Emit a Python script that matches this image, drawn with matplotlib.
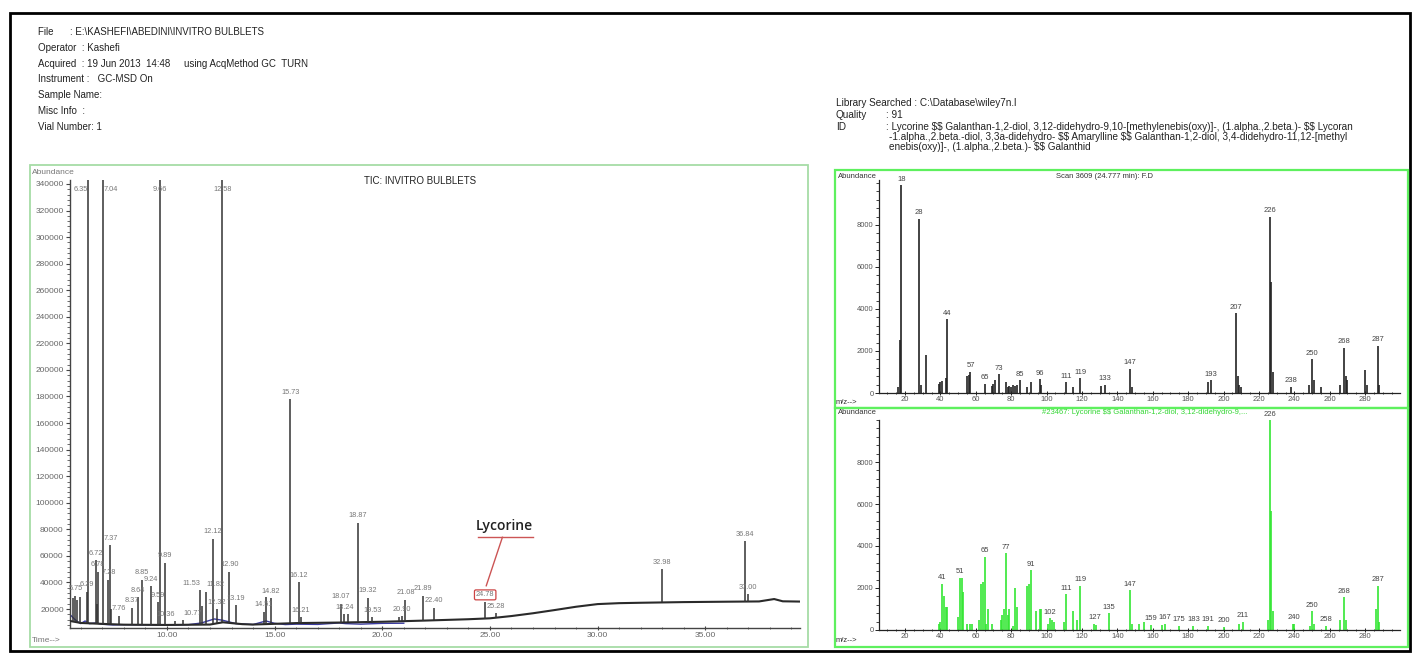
import matplotlib
matplotlib.use("Agg")
import matplotlib.pyplot as plt
import numpy as np
from matplotlib.patches import Rectangle
from matplotlib.ticker import MultipleLocator, FuncFormatter, FixedLocator
from matplotlib import font_manager

# ---------------- data ----------------
header_lines = ["File      : E:\\KASHEFI\\ABEDINI\\INVITRO BULBLETS",
                "Operator  : Kashefi",
                "Acquired  : 19 Jun 2013  14:48     using AcqMethod GC  TURN",
                "Instrument :   GC-MSD On",
                "Sample Name:",
                "Misc Info  :",
                "Vial Number: 1"]
lib_lines = ["Library Searched : C:\\Database\\wiley7n.l",
             "Quality",
             "ID"]
lib_values = ["", ": 91"]
id_lines = [": Lycorine $$ Galanthan-1,2-diol, 3,12-didehydro-9,10-[methylenebis(oxy)]-, (1.alpha.,2.beta.)- $$ Lycoran",
            "-1.alpha.,2.beta.-diol, 3,3a-didehydro- $$ Amarylline $$ Galanthan-1,2-diol, 3,4-didehydro-11,12-[methyl",
            "enebis(oxy)]-, (1.alpha.,2.beta.)- $$ Galanthid"]

# TIC peaks: retention time (min), apex abundance (off-scale peaks > 340000)
tic_rt = [5.62, 5.75, 5.83, 5.95, 6.29, 6.35, 6.72, 6.74, 6.78, 7.04, 7.28, 7.37, 7.40, 7.76,
          8.37, 8.64, 8.85, 9.24, 9.59, 9.66, 9.89, 10.36, 10.77, 11.53, 11.62, 11.82, 12.12,
          12.32, 12.58, 12.90, 13.19, 14.51, 14.60, 14.82, 15.73, 16.12, 16.21, 18.07, 18.24,
          18.43, 18.87, 19.32, 19.53, 20.80, 20.90, 21.08, 21.89, 22.40, 24.78, 25.28, 32.98,
          36.84, 37.00]
tic_ab = [28000, 30000, 27000, 29000, 33000, 420000, 57000, 24000, 48000, 410000, 42000, 68000, 20000, 15000,
          21000, 29000, 42000, 37000, 25000, 430000, 55000, 11000, 11500, 34000, 22000, 33000, 73000,
          20000, 400000, 48000, 23000, 18000, 29000, 28000, 178000, 40000, 14000, 24000, 16000,
          16000, 85000, 28500, 14000, 14000, 14500, 27000, 30000, 21000, 25500, 17000, 50000,
          71000, 31000]
# peaks whose retention-time label is legible in the reference
tic_labeled = [5.75, 6.29, 6.35, 6.72, 6.78, 7.04, 7.28, 7.37, 7.76, 8.37, 8.64, 8.85, 9.24, 9.59,
               9.66, 9.89, 10.36, 10.77, 11.53, 11.82, 12.12, 12.32, 12.58, 12.90, 13.19, 14.51,
               14.82, 15.73, 16.12, 16.21, 18.07, 18.24, 18.87, 19.32, 19.53, 20.90, 21.08, 21.89,
               22.40, 24.78, 25.28, 32.98, 36.84, 37.00]
lycorine_rt = 24.78
# TIC baseline
base_rt = [5.5, 6.0, 7.0, 8.0, 10.0, 12.0, 12.6, 13.5, 14.0, 16.0, 18.0, 20.0, 22.0, 24.0, 25.0,
           26.0, 27.0, 28.0, 29.0, 30.0, 31.0, 32.0, 34.0, 36.0, 37.5, 38.2, 38.6, 39.4]
base_ab = [11000, 9500, 8800, 8200, 8000, 8300, 10000, 8600, 8300, 9400, 9800, 10400, 11300, 12300, 13000,
           14700, 16800, 19200, 21700, 23700, 24400, 24700, 25200, 25500, 25700, 27500, 25800, 25600]
# second (blue) trace near the baseline
blue_rt = [5.55, 5.7, 5.85, 6.0, 6.2, 6.4, 6.7, 7.0, 7.5, 8.0, 9.0, 10.0, 11.0, 11.6, 12.2, 12.6,
           13.2, 14.0, 14.6, 15.0, 15.5, 16.0, 17.0, 18.0, 18.3, 19.0, 20.0, 21.0]
blue_ab = [15000, 12500, 10500, 9000, 11000, 9000, 9500, 8500, 8000, 8200, 8100, 8000, 8200, 9500,
           12500, 11500, 9000, 8300, 11000, 9200, 8300, 8600, 8400, 9500, 9000, 8600, 9200, 9300]

# Mass spectrum of scan 3609 (24.777 min)
ms1_mz = [16, 17, 18, 28, 29, 32, 39, 40, 41, 43, 44, 55, 56, 57, 65, 69, 70, 71, 73, 77,
          78, 79, 80, 81, 82, 83, 85, 89, 91, 96, 97, 111, 115, 119, 131, 133, 147, 148, 191, 193,
          207, 208, 209, 210, 226, 227, 228, 238, 248, 250, 251, 255, 266, 268, 269, 270, 280, 281, 287, 288]
ms1_ab = [300, 2500, 9900, 8300, 400, 1800, 450, 500, 550, 700, 3500, 800, 850, 1000, 440, 350, 450, 600, 900, 500,
          300, 350, 300, 400, 350, 400, 600, 300, 500, 650, 400, 500, 300, 700, 350, 400, 1150, 300, 500, 600,
          3800, 800, 400, 300, 8400, 5300, 1000, 300, 400, 1600, 600, 300, 400, 2150, 800, 600, 1100, 400, 2250, 400]
ms1_lbl = [18, 28, 44, 57, 65, 73, 85, 96, 111, 119, 133, 147, 193, 207, 226, 238, 250, 268, 287]

# Library spectrum (Lycorine)
ms2_mz = [39, 40, 41, 42, 43, 44, 50, 51, 52, 53, 55, 57, 58, 62, 63, 64, 65, 66, 67, 69,
          74, 75, 76, 77, 78, 79, 81, 82, 83, 89, 90, 91, 94, 96, 97, 101, 102, 103, 104, 110,
          111, 115, 117, 119, 127, 128, 135, 147, 148, 152, 155, 159, 165, 167, 175, 183, 191, 200, 209, 211,
          225, 226, 227, 228, 239, 240, 249, 250, 251, 258, 266, 268, 269, 286, 287, 288]
ms2_ab = [300, 400, 2200, 1600, 1100, 1100, 600, 2500, 2500, 1800, 300, 300, 300, 500, 2200, 2300, 3500, 300, 1000, 300,
          500, 700, 1000, 3650, 700, 1000, 200, 2000, 1100, 2100, 2200, 2850, 900, 1000, 1000, 300, 550, 500, 400, 400,
          1700, 900, 500, 2100, 300, 250, 800, 1900, 300, 300, 400, 250, 250, 300, 200, 200, 200, 150, 300, 400,
          500, 9999, 5650, 900, 300, 300, 200, 900, 300, 200, 500, 1570, 500, 1000, 2100, 400]
ms2_lbl = [41, 51, 65, 77, 91, 102, 111, 119, 127, 135, 147, 159, 167, 175, 183, 191, 200, 211,
           226, 240, 250, 258, 268, 287]
ms_yticks = [0, 2000, 4000, 6000, 8000]

# ---------------- style ----------------
avail = {f.name for f in font_manager.fontManager.ttflist}
narrow = [f for f in ["Liberation Sans Narrow", "Liberation Sans", "DejaVu Sans"] if f in avail]
plt.rcParams['font.family'] = narrow
plt.rcParams['text.parse_math'] = False

W, H = 1412, 655
fig = plt.figure(figsize=(W / 100, H / 100), dpi=100)


def add_ax(x0, y0, x1, y1):
    return fig.add_axes([x0 / W, 1 - y1 / H, (x1 - x0) / W, (y1 - y0) / H])


def ftext(x, y, s, **kw):
    kw.setdefault('va', 'center')
    fig.text(x / W, 1 - y / H, s, **kw)


def frame(x0, y0, x1, y1, color, lw):
    fig.add_artist(Rectangle((x0 / W, 1 - y1 / H), (x1 - x0) / W, (y1 - y0) / H,
                             transform=fig.transFigure, fill=False, edgecolor=color, lw=lw))


# outer frame
frame(10, 13, 1410, 651, 'black', 2.0)

# header
for i, s in enumerate(header_lines):
    ftext(38, 32 + i * 15.8, s, fontsize=7, color='#222222')
lib_y = [103, 115, 127]
for i, s in enumerate(lib_lines):
    ftext(836, lib_y[i], s, fontsize=7.2, color='#222222')
ftext(886, lib_y[1], lib_values[1], fontsize=7.2, color='#222222')
for i, s in enumerate(id_lines):
    ftext(886 if i == 0 else 889, 127 + i * 10, s, fontsize=7.2, color='#222222')

# ---------------- TIC ----------------
frame(30, 165, 808, 647, '#a6dca6', 1.3)
ax = add_ax(70, 180, 800, 628)
ax.set_xlim(5.5, 39.4)
ax.set_ylim(5700, 343000)
for s in ['top', 'right']:
    ax.spines[s].set_visible(False)
for s in ['left', 'bottom']:
    ax.spines[s].set_color('#444444')
    ax.spines[s].set_linewidth(1.0)
ax.patch.set_alpha(0)

tic_rt_a = np.array(tic_rt)
tic_ab_a = np.array(tic_ab)
foot = np.interp(tic_rt_a, base_rt, base_ab)
ax.plot(base_rt, base_ab, color='#2a2a2a', lw=1.5, zorder=3)
ax.plot(blue_rt, blue_ab, color='#3a3aa0', lw=1.0, zorder=2)
ax.vlines(tic_rt_a, foot, tic_ab_a, color='#333333', lw=1.1, zorder=3)

# alignment for crowded neighbouring labels
label_ha = {6.35: 'right', 7.04: 'left', 10.36: 'right', 10.77: 'left', 11.53: 'right', 11.82: 'left'}
for t, h in zip(tic_rt, tic_ab):
    if t not in tic_labeled:
        continue
    ha = label_ha.get(t, 'center')
    if h > 340000:
        ax.text(t, 336000, f"{t:.2f}", ha=ha, va='center', fontsize=5.3, color='#777777')
    else:
        txt = ax.text(t, h + 2500, f"{t:.2f}", ha=ha, va='bottom', fontsize=5.3, color='#777777')
        if abs(t - lycorine_rt) < 1e-6:
            txt.set_bbox(dict(boxstyle='round,pad=0.2', fc='none', ec='#cc4444', lw=0.9))

ax.xaxis.set_major_locator(MultipleLocator(5))
ax.xaxis.set_minor_locator(MultipleLocator(1))
ax.xaxis.set_major_formatter(FuncFormatter(lambda v, p: f"{v:.2f}"))
ax.yaxis.set_major_locator(MultipleLocator(20000))
ax.yaxis.set_minor_locator(MultipleLocator(4000))
ax.yaxis.set_major_formatter(FuncFormatter(lambda v, p: f"{int(round(v))}"))
ax.tick_params(axis='both', which='major', labelsize=6, colors='#444444', labelcolor='#666666',
               length=3, width=0.8, pad=1.5)
ax.tick_params(axis='both', which='minor', length=2, width=0.6, colors='#555555')
ax.tick_params(axis='x', which='both', direction='inout')

ftext(32, 172, "Abundance", fontsize=6, color='#777777')
ftext(32, 640, "Time-->", fontsize=6, color='#777777')
ftext(420, 181, "TIC: INVITRO BULBLETS", fontsize=7, color='#222222', ha='center')

# Lycorine annotation (relative to the Lycorine peak)
ax.text(lycorine_rt + 0.88, 82500, "Lycorine", fontsize=10, color='#222222', ha='center', va='center',
        fontweight='semibold', family=['Open Sans', 'DejaVu Sans'])
ax.plot([lycorine_rt - 0.33, lycorine_rt + 2.2], [74000, 74000], color='#cc5555', lw=1.0)
ax.plot([lycorine_rt + 0.8, lycorine_rt + 0.05], [74000, 37500], color='#cc5555', lw=1.0)


# ---------------- Mass spectra ----------------
def ms_axes(y0, y1, ymax, mz, ab, lbl, color, tick_color):
    a = add_ax(879, y0, 1400, y1)
    a.set_xlim(5.3, 299.7)
    a.set_ylim(0, ymax)
    for s in ['top', 'right']:
        a.spines[s].set_visible(False)
    for s in ['left', 'bottom']:
        a.spines[s].set_color('#222222')
        a.spines[s].set_linewidth(0.9)
    a.patch.set_alpha(0)
    a.vlines(mz, 0, ab, color=color, lw=1.2)
    for m, v in zip(mz, ab):
        if m in lbl:
            a.text(m, v + 120, f"{m}", ha='center', va='bottom', fontsize=5.5, color=tick_color)
    a.xaxis.set_major_locator(MultipleLocator(20))
    a.xaxis.set_minor_locator(MultipleLocator(5))
    a.yaxis.set_major_locator(FixedLocator(ms_yticks))
    a.yaxis.set_minor_locator(MultipleLocator(400))
    a.xaxis.set_major_formatter(FuncFormatter(lambda v, p: "" if v < 19 else f"{int(v)}"))
    a.tick_params(axis='both', which='major', labelsize=5.5, colors='#222222', labelcolor='#555555',
                  length=3, width=0.7, pad=1)
    a.tick_params(axis='both', which='minor', length=2, width=0.6, colors='#222222')
    a.tick_params(axis='x', which='both', direction='inout')
    return a


frame(835, 170, 1408, 408, '#5ef05e', 1.6)
frame(835, 408, 1408, 647, '#5ef05e', 1.6)
ms_axes(180, 393, 10140, ms1_mz, ms1_ab, ms1_lbl, '#222222', '#444444')
ms_axes(420, 630, 10000, ms2_mz, ms2_ab, ms2_lbl, '#33e633', '#444444')

ftext(838, 176, "Abundance", fontsize=5.5, color='#333333')
ftext(836, 402, "m/z-->", fontsize=5.5, color='#333333')
ftext(838, 413, "Abundance", fontsize=5.5, color='#333333')
ftext(836, 640, "m/z-->", fontsize=5.5, color='#333333')
ftext(1105, 177, "Scan 3609 (24.777 min): F.D", fontsize=5.5, color='#333333', ha='center')
ftext(1145, 413, "#23467: Lycorine $$ Galanthan-1,2-diol, 3,12-didehydro-9,...", fontsize=5.5,
      color='#33d633', ha='center')

fig.savefig("out.png", dpi=100, facecolor='white')
